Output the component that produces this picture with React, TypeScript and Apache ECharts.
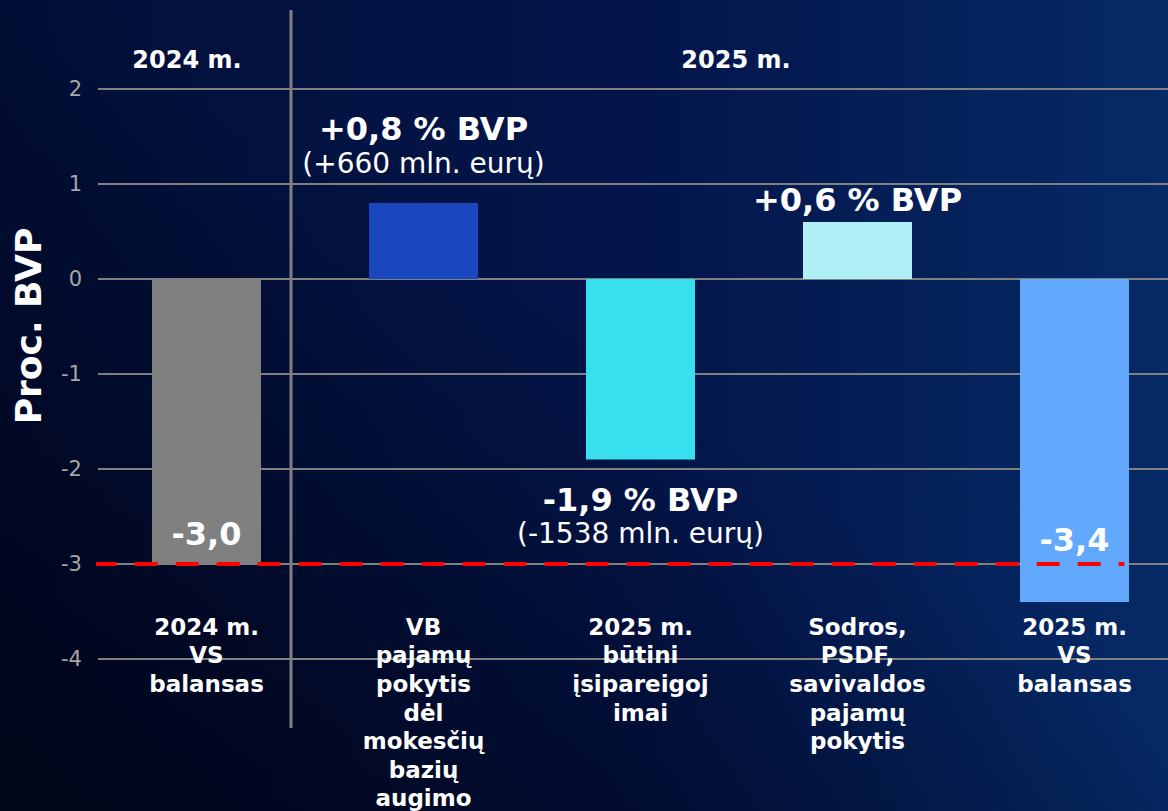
import React, { useEffect, useRef } from 'react';
import * as echarts from 'echarts';

const categories = [
  '2024 m.\nVS\nbalansas',
  'VB\npajamų\npokytis\ndėl\nmokesčių\nbazių\naugimo',
  '2025 m.\nbūtini\nįsipareigoj\nimai',
  'Sodros,\nPSDF,\nsavivaldos\npajamų\npokytis',
  '2025 m.\nVS\nbalansas',
];
const values = [-3.0, 0.8, -1.9, 0.6, -3.4];
const barColors = ['#808080', '#1A47BF', '#38DFEE', '#AEF0F5', '#62A8FD'];
const valueLabels = ['-3,0', '+0,8 % BVP', '-1,9 % BVP', '+0,6 % BVP', '-3,4'];
const subLabels = ['', '(+660 mln. eurų)', '(-1538 mln. eurų)', '', ''];
const periodLabels = ['2024 m.', '2025 m.'];
const yTitle = 'Proc. BVP';
const Y_MIN = -4;
const Y_MAX = 2;
const Y_STEP = 1;
const THRESHOLD = -3;
const thresholdSpan = [-0.52, 4.23];

const FONT = '"DejaVu Sans", Verdana, sans-serif';

const labelPlacement = [
  { position: 'insideBottom', distance: 13 },
  { position: 'top', distance: 23 },
  { position: 'bottom', distance: 23 },
  { position: 'top', distance: 5 },
  { position: 'insideBottom', distance: 45 },
];

export default function App() {
  const ref = useRef<HTMLDivElement>(null);

  useEffect(() => {
    document.body.style.margin = '0';
    document.body.style.overflow = 'hidden';
    if (!ref.current) return;
    const chart = echarts.init(ref.current, undefined, { renderer: 'svg' });

    const barData = values.map((v, i) => ({
      value: v,
      itemStyle: { color: barColors[i] },
      label: {
        show: true,
        position: labelPlacement[i].position,
        distance: labelPlacement[i].distance,
        formatter: subLabels[i]
          ? `{a|${valueLabels[i]}}\n{b|${subLabels[i]}}`
          : `{a|${valueLabels[i]}}`,
        rich: {
          a: { fontFamily: FONT, fontWeight: 'bold', fontSize: 32, lineHeight: 34, color: '#ffffff' },
          b: { fontFamily: FONT, fontWeight: 'normal', fontSize: 28, lineHeight: 34, color: '#ffffff' },
        },
      },
    }));

    chart.setOption({
      animation: false,
      textStyle: { fontFamily: FONT },
      grid: {
        left: 98,
        top: 89,
        width: 1085,
        height: 570,
        containLabel: false,
        outerBoundsMode: 'none',
      },
      xAxis: [
        {
          type: 'category',
          data: categories,
          axisLine: { show: false, onZero: false },
          axisTick: { show: false },
          splitLine: { show: false },
          axisLabel: {
            interval: 0,
            color: '#ffffff',
            fontFamily: FONT,
            fontWeight: 'bold',
            fontSize: 23,
            lineHeight: 28.6,
            margin: -46.5,
          },
        },
        {
          type: 'value',
          min: -0.5,
          max: 4.5,
          show: false,
          splitLine: { show: false },
        },
      ],
      yAxis: {
        type: 'value',
        min: Y_MIN,
        max: Y_MAX,
        interval: Y_STEP,
        axisLine: { show: false },
        axisTick: { show: false },
        axisLabel: { color: '#a6a6a6', fontSize: 21, margin: 16, fontFamily: FONT },
        splitLine: { lineStyle: { color: '#808080', width: 2 } },
      },
      series: [
        {
          type: 'bar',
          xAxisIndex: 0,
          data: barData,
          barWidth: 109,
          z: 2,
        },
        {
          type: 'line',
          xAxisIndex: 1,
          data: [
            [thresholdSpan[0], THRESHOLD],
            [thresholdSpan[1], THRESHOLD],
          ],
          symbol: 'none',
          clip: false,
          silent: true,
          lineStyle: { color: '#ff0000', width: 4, type: [23, 18] },
          z: 10,
        },
      ],
      graphic: [
        {
          type: 'line',
          shape: { x1: 291, y1: 10, x2: 291, y2: 728 },
          style: { stroke: '#808080', lineWidth: 3 },
          z: 5,
        },
        {
          type: 'text',
          x: 187,
          y: 60,
          style: {
            text: periodLabels[0],
            fill: '#ffffff',
            font: `bold 24px ${FONT}`,
            align: 'center',
            verticalAlign: 'middle',
            textAlign: 'center',
            textVerticalAlign: 'middle',
          },
        },
        {
          type: 'text',
          x: 736,
          y: 60,
          style: {
            text: periodLabels[1],
            fill: '#ffffff',
            font: `bold 24px ${FONT}`,
            align: 'center',
            verticalAlign: 'middle',
            textAlign: 'center',
            textVerticalAlign: 'middle',
          },
        },
        {
          type: 'text',
          x: 28,
          y: 326,
          rotation: Math.PI / 2,
          style: {
            text: yTitle,
            fill: '#ffffff',
            font: `bold 36px ${FONT}`,
            align: 'center',
            verticalAlign: 'middle',
            textAlign: 'center',
            textVerticalAlign: 'middle',
          },
        },
      ],
    });

    return () => {
      chart.dispose();
    };
  }, []);

  return (
    <div
      ref={ref}
      style={{
        width: 1168,
        height: 811,
        background:
          'linear-gradient(to top right, rgba(0,3,20,0.9) 0%, rgba(0,3,20,0) 55%), linear-gradient(to right, #020f38 0%, #03154a 55%, #062a66 100%)',
      }}
    />
  );
}
